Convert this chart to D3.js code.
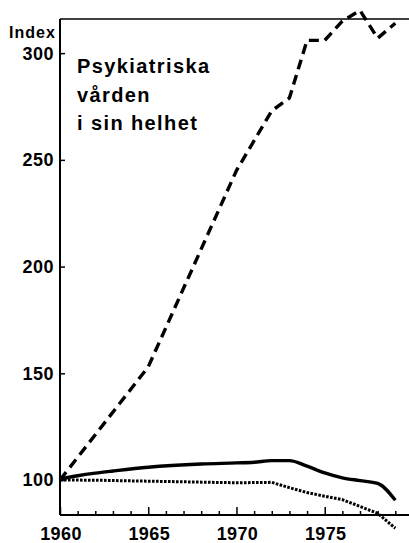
<!DOCTYPE html>
<html>
<head>
<meta charset="utf-8">
<script src="https://cdn.jsdelivr.net/npm/d3@7"></script>
<style>
  html, body { margin: 0; padding: 0; background: #fff; }
  svg { display: block; }
  text { font-family: "Liberation Sans", Arial, sans-serif; font-weight: bold; fill: #000; }
</style>
</head>
<body>
<svg id="chart" width="409" height="543"></svg>
<script>
// ---- data ----
const totalYears  = [1960, 1965, 1970, 1972, 1973, 1974, 1975, 1976, 1977, 1978, 1979];
const totalValues = [100, 153, 245, 273, 279, 306, 306, 315, 320, 307, 314];

const solidYears  = [1960, 1961, 1962, 1963, 1965, 1968, 1970, 1971, 1972, 1973, 1974, 1975, 1976, 1977, 1978, 1979];
const solidValues = [100.5, 102, 103.2, 104.2, 106, 107.5, 108, 108.3, 109.1, 109.1, 106.5, 103.3, 101, 99.7, 98.4, 90.5];

const dottedYears  = [1960, 1962, 1964, 1966, 1968, 1970, 1972, 1973, 1974, 1975, 1976, 1977, 1978, 1979];
const dottedValues = [100, 99.9, 99.6, 99.3, 99, 98.7, 98.9, 96.4, 94.1, 92.4, 90.8, 87.6, 84.4, 77.4];

const yTickValues = [100, 150, 200, 250, 300];
const xMajorTicks = [1960, 1965, 1970, 1975];
const xMinorTicks = [1961,1962,1963,1964,1966,1967,1968,1969,1971,1972,1973,1974,1976,1977,1978,1979];
const annotation = ["Psykiatriska", "vården", "i sin helhet"];
const yTitle = "Index";

// ---- layout ----
const W = 409, H = 543;
const mLeft = 60, mTop = 19, mBottom = 515;
const svg = d3.select("#chart");

const x = d3.scaleLinear().domain([1960, 1979]).range([mLeft, 395.3]);
const y = d3.scaleLinear().domain([83.6, 316]).range([mBottom, mTop]);

// frame lines
svg.append("line").attr("x1", mLeft).attr("x2", mLeft).attr("y1", mTop).attr("y2", mBottom)
  .attr("stroke", "#000").attr("stroke-width", 2);
svg.append("line").attr("x1", mLeft).attr("x2", W).attr("y1", mBottom).attr("y2", mBottom)
  .attr("stroke", "#000").attr("stroke-width", 2);
svg.append("line").attr("x1", mLeft).attr("x2", W).attr("y1", mTop).attr("y2", mTop)
  .attr("stroke", "#000").attr("stroke-width", 1.5);

// y axis ticks (pointing inside) and labels
const yAxis = d3.axisRight(y).tickValues(yTickValues).tickSize(5).tickFormat("");
const gy = svg.append("g").attr("transform", `translate(${mLeft},0)`).call(yAxis);
gy.select(".domain").remove();
gy.selectAll(".tick line").attr("stroke", "#000").attr("stroke-width", 1.5);
svg.append("g").selectAll("text").data(yTickValues).join("text")
  .attr("x", 54).attr("y", d => y(d)).attr("dy", "0.36em")
  .attr("text-anchor", "end").attr("font-size", 18).attr("letter-spacing", 0.5)
  .text(d => d);

// x axis ticks (pointing up)
const gxMinor = svg.append("g").attr("transform", `translate(0,${mBottom})`)
  .call(d3.axisBottom(x).tickValues(xMinorTicks).tickSize(-4).tickFormat(""));
gxMinor.select(".domain").remove();
gxMinor.selectAll(".tick line").attr("stroke", "#000").attr("stroke-width", 1.5);
const gxMajor = svg.append("g").attr("transform", `translate(0,${mBottom})`)
  .call(d3.axisBottom(x).tickValues(xMajorTicks).tickSize(-8).tickFormat(""));
gxMajor.select(".domain").remove();
gxMajor.selectAll(".tick line").attr("stroke", "#000").attr("stroke-width", 1.5);
svg.append("g").selectAll("text").data(xMajorTicks).join("text")
  .attr("x", d => x(d) + 1).attr("y", 540)
  .attr("text-anchor", "middle").attr("font-size", 18).attr("letter-spacing", 0.4)
  .text(d => d);

// y title
svg.append("text").attr("x", 9).attr("y", 38)
  .attr("font-size", 16).attr("letter-spacing", 1.0).text(yTitle);

// annotation
svg.append("g").selectAll("text").data(annotation).join("text")
  .attr("x", 77).attr("y", (d, i) => [73, 102, 130][i])
  .attr("font-size", 20).attr("letter-spacing", 1.4)
  .text(d => d);

// lines
const line = d3.line().x(d => x(d[0])).y(d => y(d[1]));
svg.append("path").datum(d3.zip(dottedYears, dottedValues)).attr("d", line)
  .attr("fill", "none").attr("stroke", "#000").attr("stroke-width", 3)
  .attr("stroke-dasharray", "2.6,1.4");
svg.append("path").datum(d3.zip(solidYears, solidValues)).attr("d", d3.line().curve(d3.curveMonotoneX).x(d => x(d[0])).y(d => y(d[1])))
  .attr("fill", "none").attr("stroke", "#000").attr("stroke-width", 3.4)
  .attr("stroke-linejoin", "round");
svg.append("path").datum(d3.zip(totalYears, totalValues)).attr("d", line)
  .attr("fill", "none").attr("stroke", "#000").attr("stroke-width", 3.4)
  .attr("stroke-dasharray", "10,6");
</script>
</body>
</html>
